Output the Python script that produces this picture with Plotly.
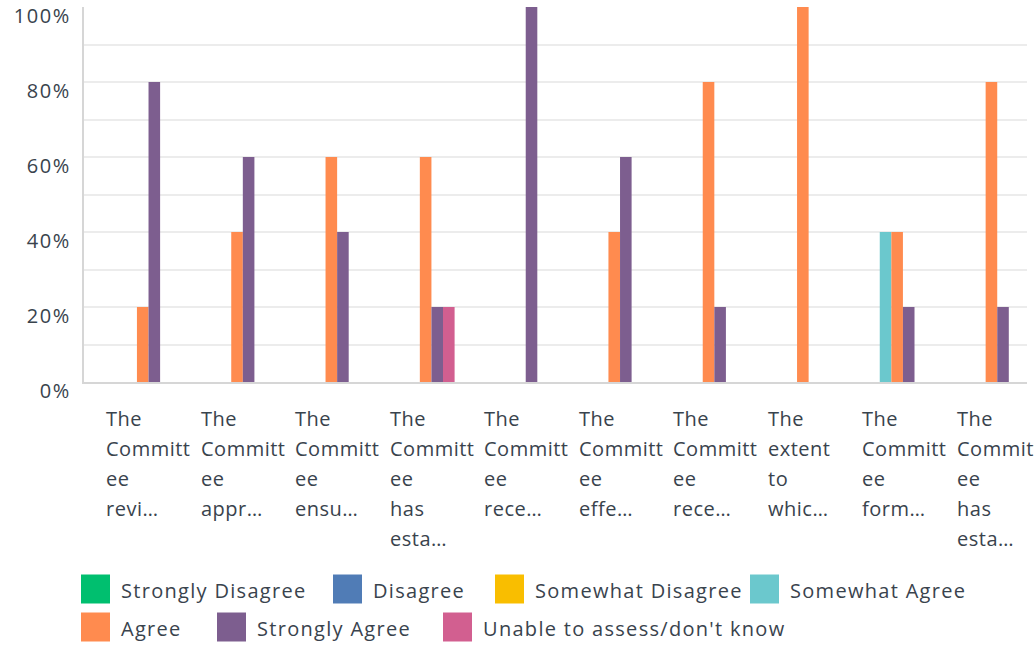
import plotly.graph_objects as go

# Survey responses (% of respondents) per statement
categories = [
    "The Committee revi…", "The Committee appr…", "The Committee ensu…",
    "The Committee has esta… (1)", "The Committee rece… (1)", "The Committee effe…",
    "The Committee rece… (2)", "The extent to whic…", "The Committee form…",
    "The Committee has esta… (2)",
]
tick_lines = [
    ["The", "Committ", "ee", "revi…"],
    ["The", "Committ", "ee", "appr…"],
    ["The", "Committ", "ee", "ensu…"],
    ["The", "Committ", "ee", "has", "esta…"],
    ["The", "Committ", "ee", "rece…"],
    ["The", "Committ", "ee", "effe…"],
    ["The", "Committ", "ee", "rece…"],
    ["The", "extent", "to", "whic…"],
    ["The", "Committ", "ee", "form…"],
    ["The", "Committ", "ee", "has", "esta…"],
]

strongly_disagree = [0, 0, 0, 0, 0, 0, 0, 0, 0, 0]
disagree = [0, 0, 0, 0, 0, 0, 0, 0, 0, 0]
somewhat_disagree = [0, 0, 0, 0, 0, 0, 0, 0, 0, 0]
somewhat_agree = [0, 0, 0, 0, 0, 0, 0, 0, 40, 0]
agree = [20, 40, 60, 60, 0, 40, 80, 100, 40, 80]
strongly_agree = [80, 60, 40, 20, 100, 60, 20, 0, 20, 20]
unable = [0, 0, 0, 20, 0, 0, 0, 0, 0, 0]

series = [
    ("Strongly Disagree", strongly_disagree, "#00bf6f"),
    ("Disagree", disagree, "#507cb6"),
    ("Somewhat Disagree", somewhat_disagree, "#f9be00"),
    ("Somewhat Agree", somewhat_agree, "#6bc8cd"),
    ("Agree", agree, "#ff8b4f"),
    ("Strongly Agree", strongly_agree, "#7d5e8f"),
    ("Unable to assess/don't know", unable, "#d25f90"),
]

y_ticks = [0, 20, 40, 60, 80, 100]
y_tick_text = ["0%", "20%", "40%", "60%", "80%", "100%"]

TEXT = "#39434d"
FONT = "Open Sans"

W, H = 1034, 645
L, R, T, B = 84, 7, 7, 263
PW, PH = W - L - R, H - T - B


def px_x(px):
    return (px - L) / PW


def px_y(py):
    return (H - B - py) / PH


def spaced(s, ls):
    return f'<span style="letter-spacing:{ls}px">{s}</span>'


fig = go.Figure()
for name, vals, color in series:
    fig.add_trace(go.Bar(
        x=categories, y=vals, name=name, marker=dict(color=color, line=dict(width=0)),
        showlegend=False,
    ))

annotations = []
# wrapped category labels, left aligned in columns under each group
label_left, label_step = 104, 94.5
for i, lines in enumerate(tick_lines):
    for j, line in enumerate(lines):
        annotations.append(dict(
            x=px_x(label_left + label_step * i), xref="paper", xanchor="left",
            y=px_y(418 + 30.2 * j), yref="paper", yanchor="middle",
            text=spaced(line, 0.5), showarrow=False, align="left",
            font=dict(family=FONT, size=20, color=TEXT),
        ))

# legend swatches and labels
legend_rows = [
    [(0, 81), (1, 333), (2, 495), (3, 750)],
    [(4, 81), (5, 217), (6, 443)],
]
row_y = [589, 627]
shapes = []
for row, yc in zip(legend_rows, row_y):
    for idx, x0 in row:
        name, _, color = series[idx]
        shapes.append(dict(
            type="rect", xref="paper", yref="paper",
            x0=px_x(x0), x1=px_x(x0 + 29), y0=px_y(yc - 14.5), y1=px_y(yc + 14.5),
            fillcolor=color, line=dict(width=0), layer="above",
        ))
        annotations.append(dict(
            x=px_x(x0 + 38), xref="paper", xanchor="left",
            y=px_y(yc + 1), yref="paper", yanchor="middle",
            text=spaced(name, 1.3), showarrow=False,
            font=dict(family=FONT, size=20, color=TEXT),
        ))

fig.update_layout(
    width=W, height=H,
    margin=dict(l=L, r=R, t=T, b=B, pad=0, autoexpand=False),
    paper_bgcolor="white", plot_bgcolor="white",
    barmode="group", bargap=0.14, bargroupgap=0,
    font=dict(family=FONT, size=20, color=TEXT),
    annotations=annotations, shapes=shapes,
    showlegend=False,
)
fig.update_xaxes(
    range=[-0.5, len(categories) - 0.5], autorange=False,
    showticklabels=False, showgrid=False, zeroline=False, automargin=False,
    showline=True, linecolor="#d6d6d6", linewidth=2, ticks="",
)
fig.update_yaxes(
    range=[0, 100], tickvals=y_ticks, ticktext=[spaced(t, 1.6) for t in y_tick_text],
    automargin=False,
    showgrid=True, gridcolor="#ececec", gridwidth=2,
    minor=dict(dtick=10, tick0=0, showgrid=True, gridcolor="#ececec", gridwidth=2),
    zeroline=False, showline=True, linecolor="#d6d6d6", linewidth=2,
    ticks="", ticklabelstandoff=7, ticklabelshift=9,
    tickfont=dict(family=FONT, size=20, color=TEXT),
)

fig.write_html("out.html")
